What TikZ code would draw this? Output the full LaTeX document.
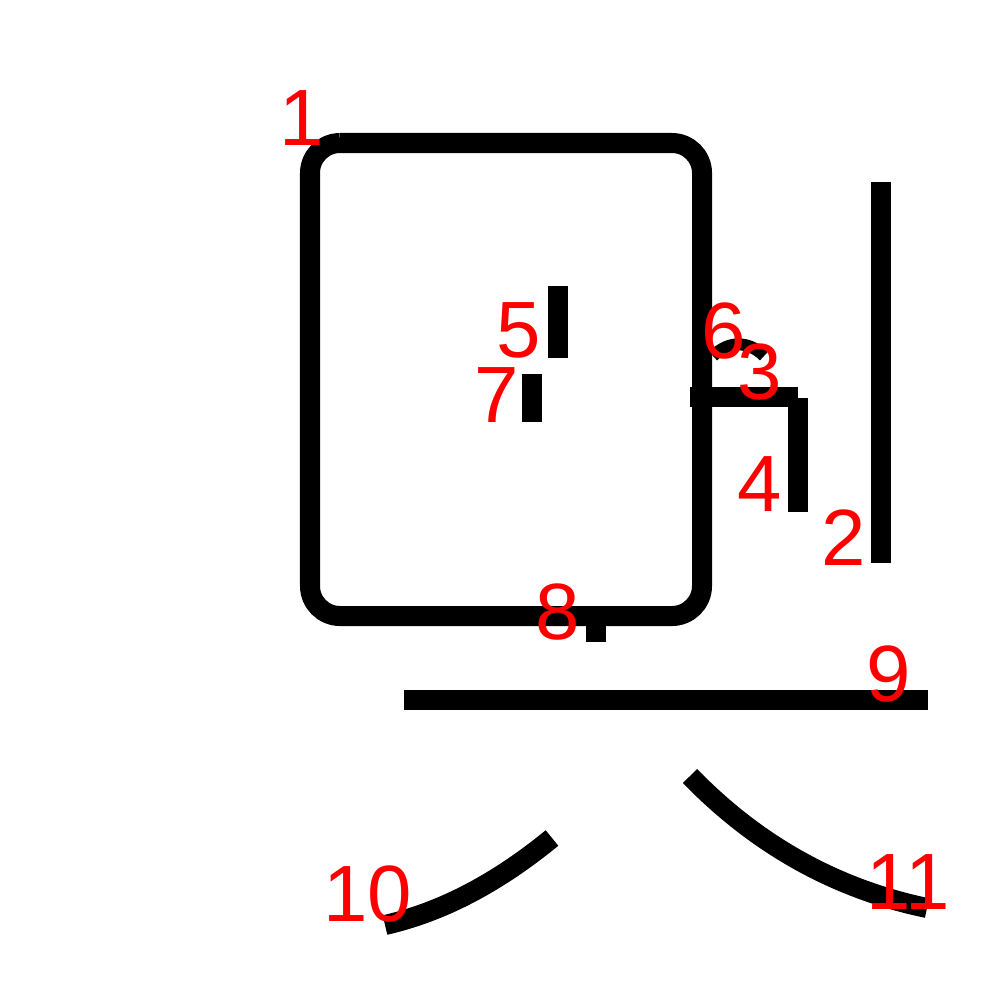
\documentclass[tikz,border=0pt]{standalone}
\usepackage{fontspec}
\setmainfont{Liberation Sans}
\begin{document}
\begin{tikzpicture}[x=0.01cm,y=-0.01cm,
  stroke/.style={line width=0.2cm, line cap=butt, black},
  num/.style={text=red, font=\fontsize{22.7pt}{24pt}\selectfont, inner sep=0pt}]
\useasboundingbox[fill=white] (0,0) rectangle (1000,1000);
% stroke 1: box
\draw[stroke, rounded corners=0.3cm] (340,143) -- (702,143) -- (702,616) -- (310,616) -- (310,143) -- (340,143);
% stroke 2
\draw[stroke] (881,182) -- (881,563);
% stroke 3
\draw[stroke] (690,397) -- (798,397);
% stroke 4
\draw[stroke] (798,398) -- (798,512);
% stroke 5
\draw[stroke] (558,286) -- (558,358);
% stroke 6
\draw[black, line width=0.12cm] (713,356) .. controls (728,341) and (748,340) .. (764,356);
% stroke 7
\draw[stroke] (532,374) -- (532,422);
% stroke 8
\draw[stroke] (596,616) -- (596,642);
% stroke 9
\draw[stroke] (404,700) -- (928,700);
% stroke 10
\draw[stroke] (385,925) .. controls (442,912) and (497,883) .. (552,838);
% stroke 11
\draw[stroke] (690,776) .. controls (757,845) and (836,889) .. (927,908);
% labels
\node[num] (n1) at (302,118) {1};
\node[num] (n2) at (844,538) {2};
\node[num] (n3) at (760,372) {3};
\node[num] (n4) at (760,484) {4};
\node[num] (n5) at (519,330) {5};
\node[num] (n6) at (724,331) {6};
\node[num] (n7) at (497,395) {7};
\node[num] (n8) at (558,612) {8};
\node[num] (n9) at (889,674) {9};
\node[num] (n10) at (368,894) {10};
\node[num] (n11) at (908,882) {11};
\end{tikzpicture}
\end{document}
